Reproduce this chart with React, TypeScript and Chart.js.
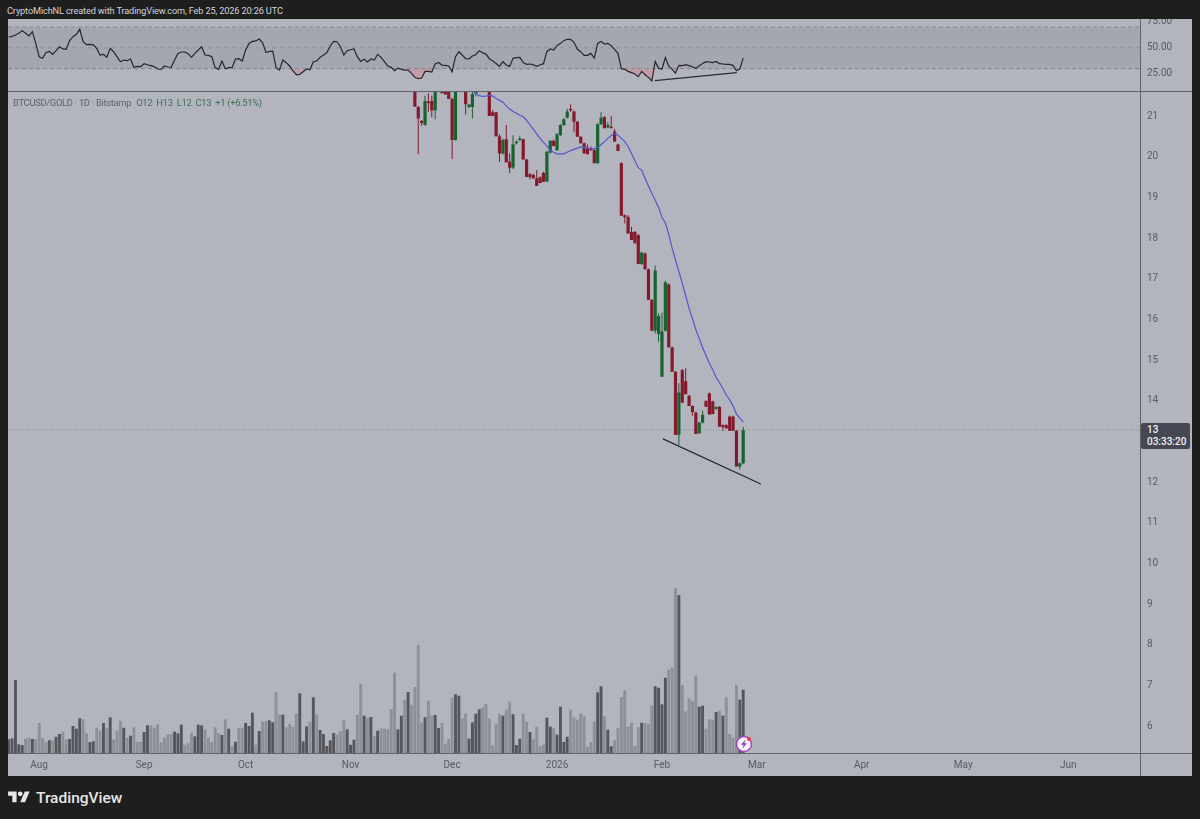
import { useEffect, useRef } from "react";
import { Chart, registerables } from "chart.js";

Chart.register(...registerables);

// one entry per trading day, index 0 is the first bar on the left of the chart
const rsiValues = [
  60.4, 61, 62.3, 64, 66.5, 64, 61.4, 65.5, 54.3, 41.5,
  40, 45.4, 46.6, 43.8, 47.3, 51, 49, 48.6, 57, 60.7,
  63, 67.8, 56, 53, 53.4, 53, 49.5, 43, 43.8, 41,
  49.5, 46.3, 41.5, 36.7, 38.3, 37.7, 39.3, 31.3, 32.2, 32,
  34.8, 33.8, 32.9, 32, 29.7, 29.4, 32.6, 31.6, 31.3, 38.3,
  44.7, 46, 46, 44.4, 40.9, 44.7, 47.9, 51.1, 43.1, 42.8,
  41.5, 31, 29.4, 37.4, 30, 31, 31, 39.3, 39.6, 37.4,
  47.9, 54.3, 56.2, 56.6, 58.5, 55, 45.7, 46.3, 47, 31,
  28.7, 38.3, 35.8, 32.6, 28, 24.2, 24.6, 27.1, 29.7, 29,
  36.7, 37.4, 40.9, 43.1, 45.4, 51.8, 56.2, 55.9, 51.1, 43.1,
  47.3, 48.2, 48.9, 41.5, 37, 39, 36.4, 39.3, 38.3, 43.8,
  40.9, 36.7, 32.6, 31.3, 28, 30.6, 29.4, 28.7, 28.7, 25.5,
  21.7, 20.4, 21, 27.4, 27.4, 26.8, 34.5, 36, 33.5, 33.2,
  32.6, 27, 41.5, 46.3, 43.1, 39.6, 39.3, 42.2, 43.4, 47.3,
  45.4, 44, 39.6, 37.4, 35, 32.2, 36.7, 33.5, 32.2, 39.9,
  40.6, 40.9, 35.8, 34.2, 34.5, 33.8, 32.2, 33.8, 34.8, 46.3,
  48.9, 47.9, 52.1, 54.3, 56.9, 58.2, 58.2, 55.3, 48.6, 46.3,
  42.8, 42.8, 44.7, 40.2, 54.3, 56.2, 53.7, 54.3, 52.1, 48.6,
  44.7, 30, 29.4, 27.4, 26.2, 24.9, 22.3, 27.4, 24.2, 21.7,
  18.2, 37, 30.3, 29.7, 40.6, 32.6, 29.4, 25.8, 33.2, 32.9,
  33.8, 32.9, 31.9, 30.3, 32.9, 35, 36.7, 36.4, 35.8, 37,
  34.8, 34.5, 34.2, 34.2, 33.2, 28, 29.7, 40.2,
];

const volumes = [
  13.7, 14.7, 73, 8.7, 8, 14.3, 15.3, 14, 13.7, 30,
  15, 10.7, 12.7, 12.7, 16.3, 19, 21.3, 13.7, 14, 27,
  24.3, 34.7, 33.7, 19.7, 11, 11.7, 25.3, 22.3, 30, 25,
  35.7, 13.7, 22.3, 32.3, 25.3, 15, 17.3, 25.7, 11, 11,
  21, 27.7, 27.7, 25.3, 28.7, 10.7, 15.7, 18.7, 19, 21.3,
  19.7, 28.3, 8.3, 9.7, 20.3, 16.7, 28.3, 27.7, 23.7, 15.3,
  11, 25.7, 19.7, 18, 33.7, 24.3, 7, 11.3, 25, 25,
  30, 27, 40.3, 8.3, 22, 31.7, 32, 32.7, 30.7, 61,
  38.3, 38.3, 25.7, 29, 26.3, 39.3, 59.7, 11.7, 26.7, 31.3,
  55.7, 38.3, 23, 19, 7, 12.7, 20, 18.3, 21.7, 32.7,
  23.7, 8.3, 13.3, 38, 69, 37.3, 35.3, 36, 16.7, 22.3,
  24.7, 24.3, 23.7, 44, 80.3, 23.7, 37.3, 53.3, 61, 48.3,
  66, 108, 30.7, 35.7, 52.3, 37.3, 38, 25, 30, 9.3,
  14, 55.3, 58.7, 57.3, 34.7, 39.3, 14.3, 30.7, 39.3, 43.7,
  45.3, 49, 34.3, 7.7, 29.3, 39.3, 37.3, 43.3, 51.3, 38.7,
  8, 14.3, 39.3, 31.3, 21, 13.7, 26.3, 7, 8.3, 35.3,
  26.3, 25, 18.3, 46.3, 11, 16.3, 43.3, 35.3, 33.3, 39.3,
  36.7, 6, 11, 31.7, 60.7, 66.7, 36.7, 23.3, 6.7, 12.7,
  24.7, 56, 62.7, 26.7, 30.3, 7, 25.7, 30.3, 30, 29.3,
  47.3, 66.7, 65.3, 48.7, 75.3, 83.3, 85.3, 165, 158, 68,
  41.7, 54.7, 52, 77.3, 46.3, 47.3, 24.3, 33.7, 33.3, 41,
  42.3, 37.3, 55.7, 19, 15.7, 68, 53.3, 63.3,
];

// D = down-volume bar, L = up-volume bar
const volumeSides = (
  "DDDDDLLDLL" + "LLDLDDLLDD" + "DDLLDDLLDL" + "DLLLDLDLLL" + "DDLLLLLLLD" +
  "DDLLLDDDLL" + "LLLDLDLDLL" + "DDDLDLLDDL" + "LDLLLLDDDL" + "DLDDDDDLLL" +
  "DDDLLDLDLD" + "LLLLLDDLDL" + "LLLDLLDDLL" + "LLDDLLDDDD" + "LLLLLLDLLD" +
  "DDLLDLLLLD" + "DLDDDDLLLL" + "LLLLDDLDDL" + "LLLLLLLDLL" + "LDDDDLLLDL" +
  "LLLLDDLLLD" + "LDLLLLDD"
).split("");

// candles before this day sit above the visible price range
const firstCandle = 120;
const opens = [
  22.2, 21.22, 20.88, 20.78, 21.35, 21.37, 21.14, 22.4, 22, 21.9,
  21.9, 21.42, 20.41, 22.2, 21.9, 22.2, 21.22, 21.22, 21.55, 21.75,
  21.9, 22, 21.85, 21.09, 21.09, 20.5, 20.08, 20.43, 19.88, 19.73,
  20.33, 20.41, 20.43, 19.93, 19.57, 19.55, 19.47, 19.49, 19.6, 19.39,
  20.1, 20.39, 20.16, 20.53, 20.78, 20.96, 21.16, 21.11, 20.86, 20.49,
  20.33, 20.22, 20.2, 20.16, 19.84, 20.8, 20.97, 20.72, 20.73, 20.62,
  20.3, 19.84, 18.56, 18.52, 18.15, 18.15, 18.07, 17.36, 17.62, 17.23,
  16.48, 15.72, 15.64, 14.59, 15.72, 16.86, 15.31, 14.71, 13.16, 14.75,
  14.48, 14.12, 13.87, 13.71, 13.2, 13.46, 13.99, 14.18, 13.98, 13.8,
  13.85, 13.4, 13.4, 13.61, 13.61, 13.26, 12.38, 12.46,
];
const highs = [
  22.3, 21.25, 20.9, 21.5, 21.56, 21.5, 22, 22.5, 22.1, 22,
  22, 21.45, 21.9, 22.4, 22.3, 22.3, 21.3, 21.7, 21.75, 22,
  22.1, 22.2, 21.9, 21.15, 21.1, 20.55, 20.45, 20.78, 20.08, 20.53,
  20.4, 20.5, 20.45, 19.95, 19.6, 19.58, 19.67, 19.52, 19.63, 20.14,
  20.41, 20.42, 20.58, 20.8, 20.95, 21.18, 21.29, 21.14, 20.88, 20.5,
  20.35, 20.3, 20.25, 20.18, 20.82, 21.09, 21, 20.85, 21, 20.68,
  20.32, 19.86, 18.58, 18.56, 18.28, 18.17, 18.09, 17.66, 17.64, 17.25,
  16.5, 17.32, 16.15, 16.16, 16.95, 16.88, 15.33, 14.73, 14.43, 14.78,
  14.8, 14.14, 13.89, 13.73, 13.48, 13.75, 14.01, 14.2, 14, 13.87,
  13.87, 13.42, 13.42, 13.63, 13.63, 13.28, 12.48, 13.35,
];
const lows = [
  21.23, 20.06, 20.76, 20.76, 21.1, 20.97, 20.92, 21.9, 21.56, 21.53,
  21.42, 19.94, 20.4, 21.8, 21.8, 21.04, 21.2, 20.94, 21.48, 21.7,
  21.7, 21.8, 21, 21, 20.5, 19.87, 20.05, 19.86, 19.59, 19.7,
  20.3, 20.38, 19.93, 19.5, 19.44, 19.45, 19.28, 19.35, 19.38, 19.37,
  20.08, 20.26, 20.14, 20.5, 20.76, 20.94, 21.1, 20.6, 20.49, 20.33,
  20.08, 20.06, 20.14, 19.84, 19.82, 20.78, 20.7, 20.7, 20.7, 20.37,
  20.14, 18.55, 18.36, 18.11, 17.95, 17.87, 17.36, 17.34, 17.23, 16.48,
  15.72, 15.65, 15.45, 14.58, 15.7, 15.31, 14.71, 13.16, 12.91, 13.95,
  14.16, 13.87, 13.63, 13.18, 13.18, 13.44, 13.85, 13.66, 13.67, 13.78,
  13.36, 13.26, 13.32, 13.26, 13.26, 12.38, 12.31, 12.44,
];
const closes = [
  21.23, 20.94, 20.83, 21.37, 21.32, 21.14, 21.9, 22, 21.56, 21.53,
  21.42, 20.41, 21.85, 21.9, 22.2, 21.29, 21.28, 21.54, 21.65, 21.9,
  22, 21.85, 21, 21, 20.5, 20.08, 20.41, 19.86, 19.73, 20.3,
  20.37, 20.44, 19.93, 19.5, 19.5, 19.47, 19.28, 19.35, 19.38, 20.12,
  20.39, 20.26, 20.55, 20.78, 20.92, 21.11, 21.14, 20.86, 20.49, 20.33,
  20.08, 20.06, 20.16, 19.84, 20.8, 20.96, 20.7, 20.78, 20.7, 20.37,
  20.14, 18.55, 18.51, 18.11, 17.95, 17.87, 17.36, 17.64, 17.23, 16.48,
  15.72, 17.2, 16.08, 15.7, 16.91, 15.31, 14.71, 13.16, 14.2, 13.95,
  14.16, 13.87, 13.72, 13.18, 13.46, 13.65, 13.85, 13.66, 13.67, 13.84,
  13.36, 13.35, 13.32, 13.26, 13.26, 12.38, 12.46, 13.28,
];

const firstAverage = 137;
const averageValues = [
  21.62, 21.56, 21.5, 21.48, 21.49, 21.51, 21.49, 21.43, 21.39, 21.34,
  21.25, 21.17, 21.11, 21.07, 21.02, 20.98, 20.9, 20.78, 20.67, 20.56,
  20.45, 20.35, 20.26, 20.16, 20.11, 20.07, 20.07, 20.07, 20.11, 20.15,
  20.18, 20.21, 20.24, 20.23, 20.2, 20.19, 20.2, 20.22, 20.3, 20.37,
  20.45, 20.52, 20.57, 20.53, 20.45, 20.37, 20.25, 20.08, 19.9, 19.73,
  19.67, 19.47, 19.28, 19.1, 18.93, 18.75, 18.51, 18.37, 18.1, 17.75,
  17.46, 17.17, 16.89, 16.58, 16.27, 16.02, 15.75, 15.53, 15.31, 15.11,
  14.92, 14.76, 14.57, 14.44, 14.3, 14.14, 14.02, 13.87, 13.67, 13.57,
  13.48,
];

const priceTrendDays = [193.3, 222.2];
const priceTrendValues = [13.06, 11.95];
const rsiTrendDays = [190.9, 215.1];
const rsiTrendValues = [18.5, 26.2];
const lastPrice = 13.28;

const rsiBands = [70, 50, 30];
const rsiTicks = [75, 50, 25];
const priceTicks = [21, 20, 19, 18, 17, 16, 15, 14, 13, 12, 11, 10, 9, 8, 7, 6];
const monthTicks = [9, 40, 70, 101, 131, 162, 193, 221, 252, 282, 313];
const monthLabels = ["Aug", "Sep", "Oct", "Nov", "Dec", "2026", "Feb", "Mar", "Apr", "May", "Jun"];

const X_MIN = -0.2;
const X_MAX = 334.22;
const FONT = "Roboto, sans-serif";
const AXIS_TEXT = "#585a63";
const LINE = "#62646c";
const GREEN = "#17622f";
const RED = "#84192c";

const axisTicks = { color: AXIS_TEXT, font: { family: FONT, size: 10 }, padding: 7 };
const noGrid = { display: false, drawTicks: false };

// the labels must not push the plot area in, the panes are laid out by hand
const dropPadding = (scale: any) => {
  scale.paddingTop = 0;
  scale.paddingBottom = 0;
  scale.paddingLeft = 0;
  scale.paddingRight = 0;
};

function valueAxis(min: number, max: number, values: number[], format: (v: number) => string) {
  return {
    position: "right" as const,
    min,
    max,
    grid: noGrid,
    border: { display: false },
    ticks: { ...axisTicks, callback: (v: any) => format(Number(v)) },
    afterBuildTicks: (scale: any) => {
      scale.ticks = values.map((value) => ({ value }));
    },
    afterFit: (scale: any) => {
      scale.width = 52;
      dropPadding(scale);
    },
  };
}

const flatLine = (y: number) => [
  { x: X_MIN, y },
  { x: X_MAX, y },
];

export default function App() {
  const rsiRef = useRef<HTMLCanvasElement>(null);
  const priceRef = useRef<HTMLCanvasElement>(null);

  useEffect(() => {
    if (!rsiRef.current || !priceRef.current) return;

    const rsiChart = new Chart(rsiRef.current, {
      type: "line",
      data: {
        datasets: [
          {
            data: rsiValues.map((y, x) => ({ x, y })),
            borderColor: "#26272c",
            borderWidth: 1.2,
            pointRadius: 0,
            fill: { target: { value: 30 }, above: "transparent", below: "rgba(236,90,110,0.28)" },
            order: 1,
          },
          {
            data: rsiTrendDays.map((x, i) => ({ x, y: rsiTrendValues[i] })),
            borderColor: "#2b2c31",
            borderWidth: 1.2,
            pointRadius: 0,
            order: 0,
          },
          {
            data: flatLine(rsiBands[0]),
            borderColor: "#878992",
            borderWidth: 1,
            borderDash: [4, 3],
            pointRadius: 0,
            fill: { target: "+2", above: "rgba(95,96,106,0.17)", below: "rgba(95,96,106,0.17)" },
            order: 3,
          },
          {
            data: flatLine(rsiBands[1]),
            borderColor: "#979aa2",
            borderWidth: 1,
            borderDash: [4, 4],
            pointRadius: 0,
            order: 3,
          },
          {
            data: flatLine(rsiBands[2]),
            borderColor: "#878992",
            borderWidth: 1,
            borderDash: [4, 3],
            pointRadius: 0,
            order: 3,
          },
        ],
      },
      options: {
        animation: false,
        responsive: false,
        layout: { padding: 0 },
        plugins: { legend: { display: false }, tooltip: { enabled: false } },
        scales: {
          x: { type: "linear", display: false, min: X_MIN, max: X_MAX },
          y: valueAxis(8.61, 77.67, rsiTicks, (v) => v.toFixed(2)),
        },
      },
    } as any);

    const days = opens.map((_, i) => firstCandle + i);
    const candleColors = opens.map((o, i) => (closes[i] >= o ? GREEN : RED));

    const priceChart = new Chart(priceRef.current, {
      type: "bar",
      data: {
        datasets: [
          {
            type: "bar",
            data: volumes.map((y, x) => ({ x, y })),
            yAxisID: "yVolume",
            backgroundColor: volumeSides.map((s) => (s === "D" ? "#55565c" : "#8e9098")),
            barThickness: 2.9,
            grouped: false,
            inflateAmount: 0,
            order: 5,
          },
          {
            type: "bar",
            data: days.map((x, i) => ({ x, y: [lows[i], highs[i]] })),
            yAxisID: "y",
            backgroundColor: candleColors,
            barThickness: 1,
            grouped: false,
            inflateAmount: 0,
            order: 4,
          },
          {
            type: "bar",
            data: days.map((x, i) => ({ x, y: [opens[i], closes[i]] })),
            yAxisID: "y",
            backgroundColor: candleColors,
            barThickness: 3.2,
            minBarLength: 1.5,
            grouped: false,
            inflateAmount: 0,
            order: 3,
          },
          {
            type: "line",
            data: averageValues.map((y, i) => ({ x: firstAverage + i, y })),
            yAxisID: "y",
            borderColor: "#5157cc",
            borderWidth: 1.2,
            pointRadius: 0,
            order: 2,
          },
          {
            type: "line",
            data: priceTrendDays.map((x, i) => ({ x, y: priceTrendValues[i] })),
            yAxisID: "y",
            borderColor: "#26272c",
            borderWidth: 1.2,
            pointRadius: 0,
            order: 1,
          },
          {
            type: "line",
            data: flatLine(lastPrice),
            yAxisID: "y",
            borderColor: "#8a8c95",
            borderWidth: 1,
            borderDash: [1, 2],
            pointRadius: 0,
            order: 6,
          },
        ],
      },
      options: {
        animation: false,
        responsive: false,
        layout: { padding: 0 },
        plugins: { legend: { display: false }, tooltip: { enabled: false } },
        scales: {
          x: {
            type: "linear",
            offset: false,
            min: X_MIN,
            max: X_MAX,
            grid: noGrid,
            border: { display: false },
            ticks: {
              ...axisTicks,
              padding: 6,
              autoSkip: false,
              maxRotation: 0,
              callback: (v: any) => monthLabels[monthTicks.indexOf(Number(v))],
            },
            afterBuildTicks: (scale: any) => {
              scale.ticks = monthTicks.map((value) => ({ value }));
            },
            afterFit: (scale: any) => {
              scale.height = 23;
              dropPadding(scale);
            },
          },
          y: valueAxis(5.337, 21.615, priceTicks, (v) => String(v)),
          yVolume: { display: false, min: 0, max: 662 },
        },
      },
    } as any);

    return () => {
      rsiChart.destroy();
      priceChart.destroy();
    };
  }, []);

  return (
    <div
      style={{
        position: "absolute",
        left: 0,
        top: 0,
        width: 1200,
        height: 819,
        overflow: "hidden",
        background: "#1e1e1e",
        fontFamily: FONT,
      }}
    >
      <div style={{ position: "absolute", left: 7, top: 4, fontSize: 9.2, letterSpacing: -0.14, lineHeight: "14px", color: "#d1d4dc", whiteSpace: "nowrap" }}>
        CryptoMichNL created with TradingView.com, Feb 25, 2026 20:26 UTC
      </div>

      <div style={{ position: "absolute", left: 8, top: 19, width: 1184, height: 757, background: "#b2b5be" }}>
        <canvas ref={rsiRef} width={1184} height={72} style={{ position: "absolute", left: 0, top: 0 }} />
        <canvas ref={priceRef} width={1184} height={685} style={{ position: "absolute", left: 0, top: 72 }} />
        {/* pane separators */}
        <div style={{ position: "absolute", left: 0, top: 72, width: 1184, height: 1, background: LINE }} />
        <div style={{ position: "absolute", left: 0, top: 734, width: 1184, height: 1, background: LINE }} />
        <div style={{ position: "absolute", left: 1132, top: 0, width: 1, height: 757, background: LINE }} />

        <div style={{ position: "absolute", left: 5, top: 78, fontSize: 9.4, letterSpacing: -0.3, lineHeight: "12px", whiteSpace: "nowrap", color: "#5f616a" }}>
          BTCUSD/GOLD · 1D · Bitstamp
          <span style={{ color: "#3d6f54", marginLeft: 5 }}>O12&nbsp; H13&nbsp; L12&nbsp; C13&nbsp; +1 (+6.51%)</span>
        </div>

        {/* countdown tag on the price axis */}
        <div
          style={{
            position: "absolute",
            left: 1133,
            top: 404,
            width: 49,
            height: 26,
            borderRadius: 2,
            background: "#454853",
            color: "#f0f1f4",
            fontSize: 10,
            fontWeight: 500,
            lineHeight: "12px",
            padding: "1px 0 0 6px",
            boxSizing: "border-box",
          }}
        >
          <div>13</div>
          <div>03:33:20</div>
        </div>

        {/* bolt badge at the last bar */}
        <svg width="20" height="20" viewBox="0 0 20 20" style={{ position: "absolute", left: 726, top: 715 }}>
          <circle cx="10" cy="10" r="7.5" fill="#f4f1f7" stroke="#a54cbd" strokeWidth="1.6" />
          <path d="M11.5 5.5 7 10.8h2.6L8.5 14.5l4.4-5.3h-2.6z" fill="#8c3aa8" />
          <circle cx="15" cy="5" r="2" fill="#ec3a4c" />
        </svg>
      </div>

      {/* TradingView mark */}
      <svg width="22" height="17" viewBox="0 0 36 28" style={{ position: "absolute", left: 8, top: 789 }}>
        <path d="M14 22H7V11H0V4h14v18zM28 22h-8l7.5-18h8L28 22z" fill="#e6e6e6" />
        <circle cx="20" cy="8" r="4" fill="#e6e6e6" />
      </svg>
      <div style={{ position: "absolute", left: 36, top: 788, fontSize: 15.5, lineHeight: "20px", fontWeight: 500, color: "#e6e6e6", whiteSpace: "nowrap" }}>
        TradingView
      </div>
    </div>
  );
}
